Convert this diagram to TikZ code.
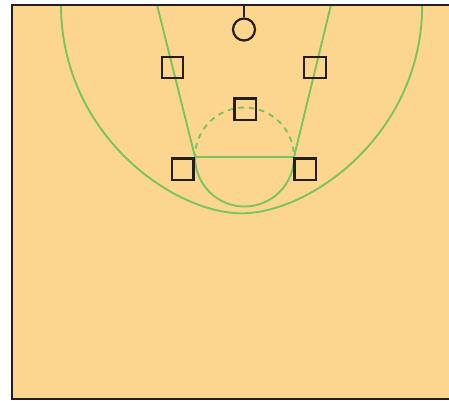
\documentclass[tikz,border=0pt]{standalone}
\definecolor{courtfill}{RGB}{252,214,143}
\definecolor{linegreen}{RGB}{122,196,96}
\definecolor{ink}{RGB}{35,31,32}
\begin{document}
\begin{tikzpicture}[x=1pt,y=-1pt,
  courtline/.style={linegreen, line width=1.9pt},
  player/.style={draw=ink, line width=2.2pt, rectangle, minimum size=21.5pt, inner sep=0pt},
  rim/.style={draw=ink, line width=2.2pt, circle, minimum size=22pt, inner sep=0pt}]
\useasboundingbox (0,0) rectangle (449,400);
% court
\fill[courtfill] (11.8,4.8) rectangle (449,398.5);
% three point line
\draw[courtline] (61,4.8) .. controls (61,134) and (173,213.3) .. (241.6,213.3)
  .. controls (310.2,213.3) and (422.2,134) .. (422.2,4.8);
% lane
\draw[courtline] (157,4.8) -- (195,157) -- (294,157) -- (331,4.8);
% free throw circle
\draw[courtline] (294,157) arc[start angle=0, end angle=180, radius=49.5];
\draw[courtline, dash pattern=on 5.5pt off 5pt, dash phase=2pt] (195,157) arc[start angle=180, end angle=360, radius=49.5];
% border
\draw[ink, line width=2pt] (449,4.8) -- (11.8,4.8) -- (11.8,398.5) -- (449,398.5);
% hoop
\coordinate (rimtop) at (244,4.8);
\node[rim] (hoop) at (244,29.5) {};
\draw[ink, line width=2.2pt] (hoop) -- (rimtop);
% players
\node[player] (p1) at (172.5,67.5) {};
\node[player] (p2) at (315,67.5) {};
\node[player] (p3) at (245.3,109.3) {};
\node[player] (p4) at (182.8,169.2) {};
\node[player] (p5) at (305.3,169.2) {};
\end{tikzpicture}
\end{document}
